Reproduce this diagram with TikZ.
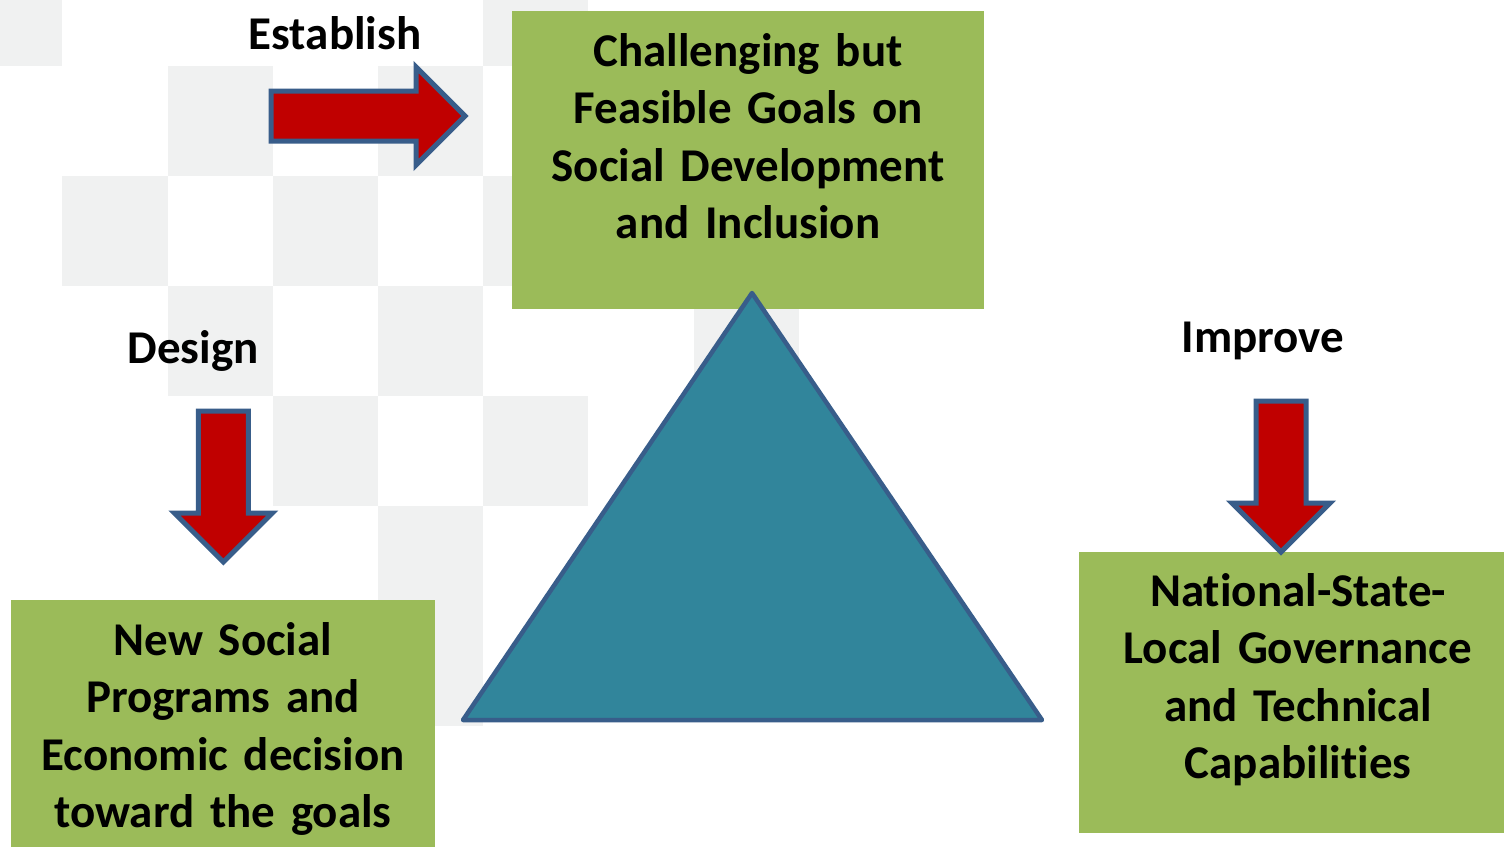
\documentclass[tikz,border=0pt]{standalone}
\usepackage{fontspec}
\setmainfont{Carlito}[Ligatures={NoCommon}]
\usetikzlibrary{shapes.arrows}

\definecolor{boxgreen}{RGB}{155,187,89}
\definecolor{tealfill}{RGB}{49,133,155}
\definecolor{edgeblue}{RGB}{56,93,138}
\definecolor{arrowred}{RGB}{192,0,0}
\definecolor{checkgray}{RGB}{240,241,241}

\newcommand{\boxfont}{\fontsize{47}{57.5}\selectfont\bfseries}

\tikzstyle{goalbox} = [rectangle, fill=boxgreen, inner sep=0pt, anchor=north, align=center, font=\boxfont]
\tikzstyle{steplabel} = [inner sep=0pt, anchor=base, font=\boxfont]
\tikzstyle{bigarrow} = [single arrow, draw=edgeblue, fill=arrowred, line width=5pt, inner xsep=0pt, inner ysep=22.5pt, minimum width=93pt, single arrow head extend=24pt]
\tikzstyle{checker} = [fill=checkgray]

\begin{document}
\begin{tikzpicture}[x=1pt, y=-1pt]
  \path [use as bounding box, fill=white] (0,0) rectangle (1504,846);

  % light squares in the background
  \foreach \c/\r in {-1/-1, 4/-1, 1/0, 3/0, 0/1, 2/1, 4/1, 1/2, 3/2, 6/2, 2/3, 4/3, 3/4, 3/5}
    \fill [checker] (62.3+105.2*\c, 65.7+110*\r) rectangle ++(105.2, 110);

  \node (Goals) [goalbox, text width=472pt, text height=55pt, text depth=243pt] at (748, 11) {Challenging but\\Feasible Goals on\\Social Development\\and Inclusion};
  \node (Programs) [goalbox, text width=424pt, text height=55pt, text depth=205pt] at (223, 600) {New Social\\Programs and\\Economic decision\\toward the goals};
  \node (Governance) [goalbox, text width=438pt, text height=54pt, text depth=227pt] at (1298, 552) {National-State-\\Local Governance\\and Technical\\Capabilities};

  \draw [edgeblue, fill=tealfill, line width=4.5pt, line join=round] (752,293) -- (1042,720) -- (463,720) -- cycle;

  \node (Establish) [steplabel] at (335, 49) {Establish};
  \node (Design) [steplabel] at (193, 363) {Design};
  \node (Improve) [steplabel] at (1263, 352) {Improve};

  \node (Establish Arrow) [bigarrow, minimum height=194pt, anchor=tail] at (268.5, 116) {};
  \node (Design Arrow) [bigarrow, minimum height=151pt, rotate=-90, anchor=tail] at (223.3, 408.5) {};
  \node (Improve Arrow) [bigarrow, minimum height=151pt, rotate=-90, anchor=tail] at (1281, 398.5) {};
\end{tikzpicture}
\end{document}
